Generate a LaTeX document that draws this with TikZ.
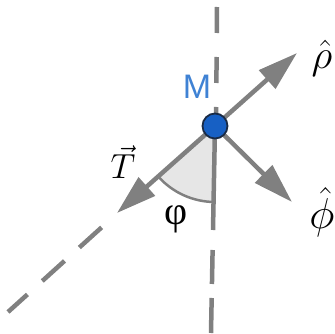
\RequirePackage{fix-cm}
\documentclass[tikz,border=0pt]{standalone}
\usepackage{fontspec}
\newfontfamily\greekserif{Liberation Serif}
\newfontfamily\labelsans{Liberation Sans}
\usetikzlibrary{arrows.meta}
\definecolor{axisgray}{HTML}{808080}
\definecolor{wedgegray}{HTML}{E6E6E6}
\definecolor{mblue}{HTML}{3F82D4}
\definecolor{dotblue}{HTML}{1760C4}
\definecolor{dotrim}{HTML}{1A2B45}
\tikzset{
  axisline/.style={draw=axisgray, line width=4.5pt},
  dashline/.style={axisline, dash pattern=on 26pt off 24pt},
  vecarrow/.style={axisline, -{Triangle[length=40pt,width=24pt]}},
  lbl/.style={inner sep=0pt, font=\fontsize{24}{28}\selectfont},
}
\begin{document}
\begin{tikzpicture}[x=1pt,y=1pt]
\useasboundingbox (0,0) rectangle (335,333);
% points
\coordinate (M) at (215,207);
\coordinate (rtip) at (297,280);
\coordinate (ttip) at (117,120);
\coordinate (ftip) at (292,131);
\coordinate (vtop) at (217,326);
\coordinate (vtopend) at (216,200);
\coordinate (vsolid) at (213,103);
\coordinate (vbot) at (211,0);
\coordinate (dstart) at (112,115);
\coordinate (dend) at (8,21);
% wedge
\fill[wedgegray] (M) -- ++(270:76) arc[start angle=270, end angle=221.6, radius=76] -- cycle;
\draw[draw=axisgray, line width=2.5pt] (M) ++(270:76) arc[start angle=270, end angle=221.6, radius=76];
% dashed lines
\draw[dashline] (vtop) -- (vtopend);
\draw[axisline] (M) -- (vsolid);
\draw[axisline, dash pattern=on 0pt off 20pt on 34pt off 14pt on 60pt off 40pt] (vsolid) -- (vbot);
\draw[axisline, dash pattern=on 0pt off 14pt on 30pt off 20pt on 30pt off 20pt on 30pt off 20pt] (dstart) -- (dend);
% vectors
\draw[vecarrow] (M) -- (rtip);
\draw[vecarrow] (M) -- (ttip);
\draw[vecarrow] (M) -- (ftip);
% dot
\node[circle, fill=dotblue, draw=dotrim, line width=1.8pt, minimum size=25pt, inner sep=0pt] (dot) at (M) {};
% labels
\node[lbl, text=mblue, font=\labelsans\fontsize{34}{36}\selectfont] (mlab) at (197,246) {M};
\node[lbl, scale=1.7, transform shape] (rholab) at (322,275) {$\hat{\rho}$};
\node[lbl, scale=1.8, transform shape] (philab) at (322,121) {$\hat{\phi}$};
\node[lbl, scale=1.45, transform shape] (tlab) at (123,171) {$\vec{T}$};
\node[lbl, font=\greekserif\fontsize{40}{44}\selectfont] (anglab) at (176,114) {φ};
\end{tikzpicture}
\end{document}
